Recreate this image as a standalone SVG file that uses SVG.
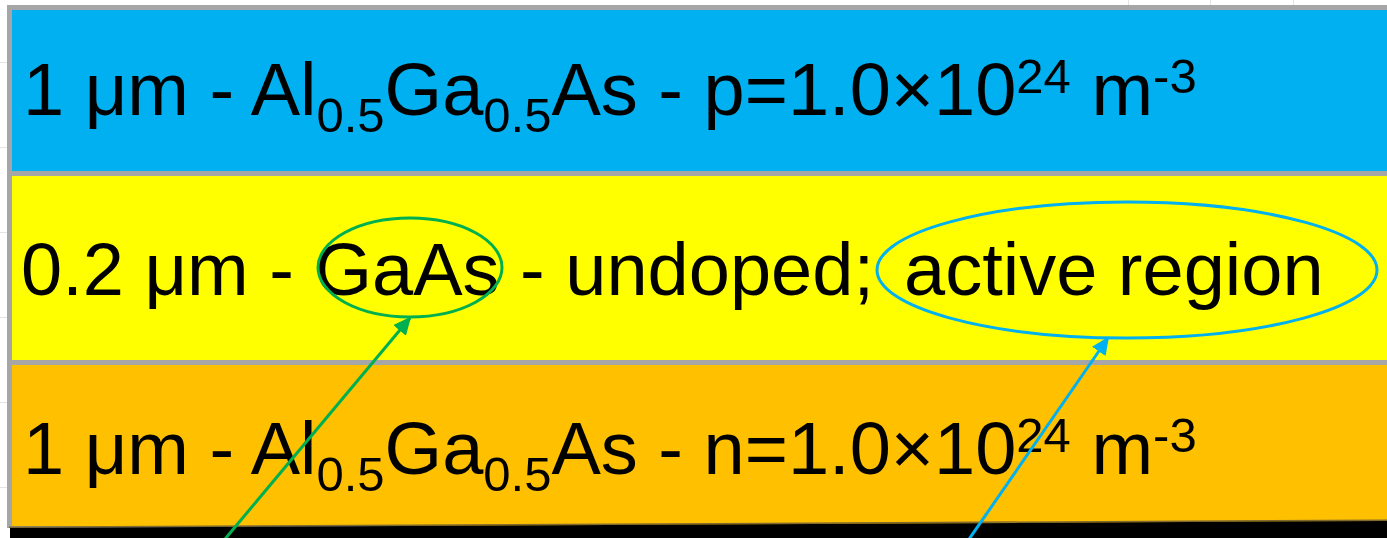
<svg xmlns="http://www.w3.org/2000/svg" width="1387" height="538" viewBox="0 0 1387 538">
  <style>
    .t { font-family: "Liberation Sans", Arial, sans-serif; font-size: 74px; fill: #000; }
    .s { font-size: 49px; }
    .grid { stroke: #e4e4e4; stroke-width: 1; }
    .sep { fill: #a6a6a6; }
  </style>
  <defs>
    <marker id="arrG" viewBox="0 0 10 10" refX="9" refY="5" markerWidth="6" markerHeight="5.5" markerUnits="strokeWidth" orient="auto" preserveAspectRatio="none">
      <path d="M0,0 L10,5 L0,10 z" fill="#00b050"/>
    </marker>
    <marker id="arrB" viewBox="0 0 10 10" refX="9" refY="5" markerWidth="6" markerHeight="5.5" markerUnits="strokeWidth" orient="auto" preserveAspectRatio="none">
      <path d="M0,0 L10,5 L0,10 z" fill="#00b0f0"/>
    </marker>
  </defs>

  <rect x="0" y="0" width="1387" height="538" fill="#ffffff"/>
  <g id="background-grid">
    <line class="grid" x1="0" y1="62.5" x2="7" y2="62.5"/>
    <line class="grid" x1="0" y1="147.5" x2="7" y2="147.5"/>
    <line class="grid" x1="0" y1="232.5" x2="7" y2="232.5"/>
    <line class="grid" x1="0" y1="317.5" x2="7" y2="317.5"/>
    <line class="grid" x1="0" y1="402.5" x2="7" y2="402.5"/>
    <line class="grid" x1="0" y1="487.5" x2="7" y2="487.5"/>
    <line class="grid" x1="1128.5" y1="0" x2="1128.5" y2="5"/>
    <line class="grid" x1="1210.5" y1="0" x2="1210.5" y2="5"/>
    <line class="grid" x1="1293.5" y1="0" x2="1293.5" y2="5"/>
  </g>

  <!-- frame -->
  <rect class="sep" x="7" y="5" width="1380" height="523"/>

  <g id="layer-p">
    <rect x="12" y="10" width="1375" height="161" fill="#00b0f0"/>
    <text class="t" x="23" y="115">1 μm - Al<tspan class="s" dy="17">0.5</tspan><tspan dy="-17">Ga</tspan><tspan class="s" dy="17">0.5</tspan><tspan dy="-17">As - p=1.0×10</tspan><tspan class="s" dy="-22">24</tspan><tspan dy="22"> m</tspan><tspan class="s" dy="-22">-3</tspan></text>
  </g>

  <g id="layer-active">
    <rect x="12" y="176" width="1375" height="184" fill="#ffff00"/>
    <text class="t" x="21" y="295">0.2 μm - GaAs - undoped; <tspan x="904">active region</tspan></text>
  </g>

  <g id="layer-n">
    <rect x="12" y="365" width="1375" height="161" fill="#ffc000"/>
    <text class="t" x="23" y="474">1 μm - Al<tspan class="s" dy="17">0.5</tspan><tspan dy="-17">Ga</tspan><tspan class="s" dy="17">0.5</tspan><tspan dy="-17">As - n=1.0×10</tspan><tspan class="s" dy="-22">24</tspan><tspan dy="22"> m</tspan><tspan class="s" dy="-22">-3</tspan></text>
  </g>

  <g id="substrate">
    <polygon points="9,526.5 1387,519.5 1387,521 9,528" fill="#7f6a30"/>
    <polygon points="10,528 1387,521 1387,538 10,538" fill="#000000"/>
  </g>

  <g id="mark-gaas">
    <ellipse cx="410" cy="267.5" rx="92" ry="49.5" fill="none" stroke="#00b050" stroke-width="3"/>
  </g>
  <g id="mark-active">
    <ellipse cx="1127" cy="270" rx="250" ry="68" fill="none" stroke="#00b0f0" stroke-width="3"/>
  </g>

  <g id="connectors">
    <line x1="220" y1="545" x2="410" y2="318" stroke="#00b050" stroke-width="3" marker-end="url(#arrG)"/>
    <line x1="965" y1="545" x2="1108" y2="338" stroke="#00b0f0" stroke-width="3" marker-end="url(#arrB)"/>
  </g>
</svg>
